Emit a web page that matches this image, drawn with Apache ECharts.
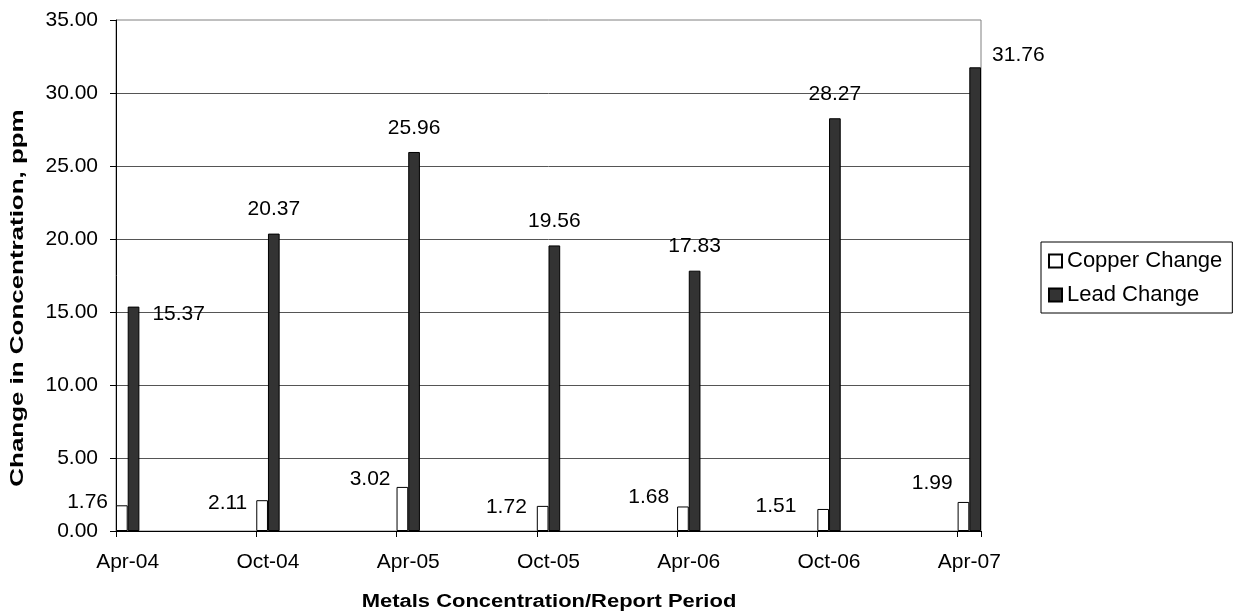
<!DOCTYPE html>
<html>
<head>
<meta charset="utf-8">
<script src="https://cdn.jsdelivr.net/npm/echarts@6/dist/echarts.min.js"></script>
<style>
html,body{margin:0;padding:0;background:#fff;}
#chart{width:1238px;height:613px;}
</style>
</head>
<body>
<div id="chart"></div>
<script>
// ---- data ----
const periods = ['Apr-04', 'Oct-04', 'Apr-05', 'Oct-05', 'Apr-06', 'Oct-06', 'Apr-07'];
const copperChange = [1.76, 2.11, 3.02, 1.72, 1.68, 1.51, 1.99];
const leadChange = [15.37, 20.37, 25.96, 19.56, 17.83, 28.27, 31.76];
const seriesNames = ['Copper Change', 'Lead Change'];
const yMin = 0, yMax = 35, yStep = 5;
const xTitle = 'Metals Concentration/Report Period';
const yTitle = 'Change in Concentration, ppm';

// ---- monthly date axis (Apr-04 .. Apr-07) ----
const MON = ['Jan','Feb','Mar','Apr','May','Jun','Jul','Aug','Sep','Oct','Nov','Dec'];
const months = [];
for (let y = 2004, m = 3; !(y === 2007 && m > 3); ) {
  months.push(MON[m] + '-' + String(y).slice(2));
  m++; if (m > 11) { m = 0; y++; }
}

// label placement (style only)
const copperNudge = {
  'Apr-04': [-8, -3], 'Oct-04': [-9, 3], 'Apr-05': [-6, -8], 'Oct-05': [-10, 1],
  'Apr-06': [-8, -9], 'Oct-06': [-21, -3], 'Apr-07': [-5, -19]
};
const leadNudge = { 'Apr-04': [51, 8], 'Apr-07': [49, -12] };

const FONT = "'Liberation Sans', Arial, sans-serif";

function buildSeriesData(values, isLead) {
  return months.map(m => {
    const i = periods.indexOf(m);
    if (i < 0) return null;
    let label;
    if (isLead) {
      const p = leadNudge[m] || ['50%', -24];
      label = { position: p, align: 'center', verticalAlign: 'middle' };
    } else {
      const p = copperNudge[m];
      label = { position: p, align: 'right', verticalAlign: 'middle' };
    }
    return { value: values[i], label: label };
  });
}

const chart = echarts.init(document.getElementById('chart'), null, { renderer: 'canvas' });
const labelBase = {
  show: true, color: '#000', fontFamily: FONT, fontSize: 21,
  formatter: p => Number(p.value).toFixed(2)
};
chart.setOption({
  backgroundColor: '#fff',
  animation: false,
  textStyle: { fontFamily: FONT },
  grid: { left: 116, top: 20, right: 257, bottom: 82, show: true, borderColor: '#808080', borderWidth: 1, backgroundColor: 'transparent' },
  legend: {
    orient: 'vertical', left: 1041, top: 242,
    data: seriesNames,
    icon: 'rect', itemWidth: 13, itemHeight: 13, itemGap: 12,
    padding: [8, 10, 7, 7],
    borderColor: '#000', borderWidth: 1, backgroundColor: '#fff',
    textStyle: { fontSize: 22, color: '#000', fontFamily: FONT }
  },
  xAxis: {
    type: 'category', data: months, boundaryGap: true,
    axisLine: { lineStyle: { color: '#000', width: 1 } },
    axisTick: { show: true, interval: 5, length: 6, lineStyle: { color: '#000' } },
    axisLabel: { interval: 5, margin: 21, fontSize: 21, color: '#000', fontFamily: FONT },
    splitLine: { show: false }
  },
  yAxis: {
    type: 'value', min: yMin, max: yMax, interval: yStep,
    axisLine: { show: true, lineStyle: { color: '#000', width: 1 } },
    axisTick: { show: true, length: 6, lineStyle: { color: '#000' } },
    axisLabel: { margin: 18, fontSize: 21, color: '#000', fontFamily: FONT, formatter: v => v.toFixed(2) },
    splitLine: { show: true, showMaxLine: false, showMinLine: false, lineStyle: { color: '#555', width: 1 } }
  },
  series: [
    {
      name: seriesNames[0], type: 'bar', barGap: '0%', barCategoryGap: '0%',
      itemStyle: { color: '#fff', borderColor: '#000', borderWidth: 1 },
      label: labelBase,
      data: buildSeriesData(copperChange, false)
    },
    {
      name: seriesNames[1], type: 'bar', barGap: '0%', barCategoryGap: '0%',
      itemStyle: { color: '#333333', borderColor: '#000', borderWidth: 1 },
      label: labelBase,
      data: buildSeriesData(leadChange, true)
    }
  ],
  graphic: [
    {
      type: 'text', x: 549, y: 602, scaleX: 1.22, scaleY: 1,
      style: { text: xTitle, font: 'bold 18px ' + FONT, fill: '#000', align: 'center', verticalAlign: 'middle' }
    },
    {
      type: 'text', x: 18, y: 298, rotation: Math.PI / 2, scaleX: 1.44, scaleY: 1,
      style: { text: yTitle, font: 'bold 18px ' + FONT, fill: '#000', align: 'center', verticalAlign: 'middle' }
    }
  ]
});
</script>
</body>
</html>
